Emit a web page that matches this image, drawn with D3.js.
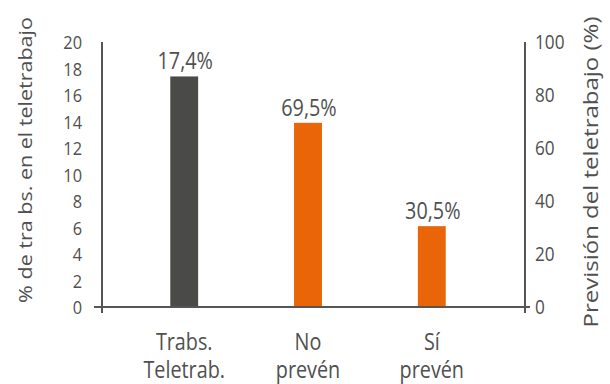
<!DOCTYPE html>
<html>
<head>
<meta charset="utf-8">
<script src="https://cdn.jsdelivr.net/npm/d3@7"></script>
<style>
  body { margin: 0; background: #fff; }
  text { font-family: "Open Sans", "Noto Sans", sans-serif; font-weight: 400; fill: #505050; }
</style>
</head>
<body>
<svg id="chart"></svg>
<script>
const categories = [["Trabs.", "Teletrab."], ["No", "prevén"], ["Sí", "prevén"]];
const values = [17.4, 69.5, 30.5];
const axisSide = ["left", "right", "right"];
const valueLabels = ["17,4%", "69,5%", "30,5%"];
const leftTicks = [0, 2, 4, 6, 8, 10, 12, 14, 16, 18, 20];
const rightTicks = [0, 20, 40, 60, 80, 100];

const width = 610, height = 384;
const x0 = 102, x1 = 525, yTop = 42, yBase = 307;
const sx = 0.86; // the lettering is a bit narrow

const svg = d3.select("#chart").attr("width", width).attr("height", height);

const x = d3.scaleBand().domain(d3.range(categories.length)).range([122, 494]).paddingInner(0.775).paddingOuter(0.39);
const yL = d3.scaleLinear().domain([0, 20]).range([yBase, yTop]);
const yR = d3.scaleLinear().domain([0, 100]).range([yBase, yTop]);
const colors = ["#4a4a48", "#ea6508", "#ea6508"];
const yOf = (d, i) => (axisSide[i] === "left" ? yL : yR)(d);

// text drawn narrow, anchored at (tx, ty)
function label(tx, ty, str, size, anchor) {
  return svg.append("g")
    .attr("transform", `translate(${tx},${ty}) scale(${sx},1)`)
    .append("text")
    .attr("text-anchor", anchor)
    .attr("font-size", size)
    .text(str);
}

// bars
svg.selectAll("rect.bar")
  .data(values)
  .join("rect")
  .attr("class", "bar")
  .attr("x", (d, i) => x(i))
  .attr("width", x.bandwidth())
  .attr("y", yOf)
  .attr("height", (d, i) => yBase - yOf(d, i))
  .attr("fill", (d, i) => colors[i]);

// value labels
values.forEach((d, i) => label(x(i) + x.bandwidth() / 2 + 1, yOf(d, i) - 7, valueLabels[i], 23, "middle"));

// axes lines
const axisColor = "#555";
svg.append("line").attr("x1", x0).attr("x2", x0).attr("y1", yTop).attr("y2", yBase + 6)
  .attr("stroke", axisColor).attr("stroke-width", 2);
svg.append("line").attr("x1", x1).attr("x2", x1).attr("y1", yTop).attr("y2", yBase + 6)
  .attr("stroke", axisColor).attr("stroke-width", 2);
svg.append("line").attr("x1", x0 - 8).attr("x2", x1 + 5).attr("y1", yBase).attr("y2", yBase)
  .attr("stroke", axisColor).attr("stroke-width", 2);

// tick labels
leftTicks.forEach(d => label(82, yL(d) + 7, d, 19, "end"));
rightTicks.forEach(d => label(535, yR(d) + 7, d, 20, "start"));

// category labels
categories.forEach((lines, i) => {
  lines.forEach((l, j) => label(x(i) + x.bandwidth() / 2, 350 + j * 28, l, 23, "middle"));
});

// axis titles
svg.append("g")
  .attr("transform", `translate(32,160) scale(${sx},1) rotate(-90)`)
  .append("text")
  .attr("text-anchor", "middle")
  .attr("font-size", 21.5)
  .text("% de tra bs. en el teletrabajo");

svg.append("g")
  .attr("transform", `translate(598,172) scale(${sx},1) rotate(-90)`)
  .append("text")
  .attr("text-anchor", "middle")
  .attr("font-size", 24)
  .text("Previsión del teletrabajo (%)");
</script>
</body>
</html>
